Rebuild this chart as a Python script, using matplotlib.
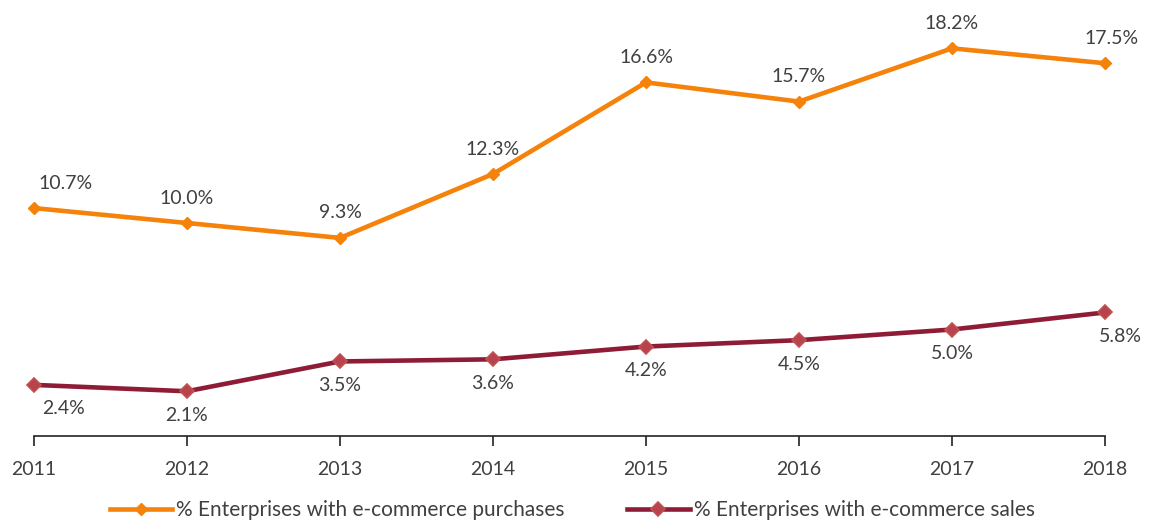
import numpy as np
import matplotlib.pyplot as plt

plt.rcParams['font.family'] = ['Lato', 'DejaVu Sans']

# data
years = ['2011', '2012', '2013', '2014', '2015', '2016', '2017', '2018']
purchases = [10.7, 10.0, 9.3, 12.3, 16.6, 15.7, 18.2, 17.5]
sales = [2.4, 2.1, 3.5, 3.6, 4.2, 4.5, 5.0, 5.8]
label_buy = '% Enterprises with e-commerce purchases'
label_sell = '% Enterprises with e-commerce sales'

orange = '#F5820A'
wine = '#8E1C36'
txt = '#404040'

fig = plt.figure(figsize=(11.49, 5.23), dpi=100)
ax = fig.add_axes([34/1149, 1-436/523, (1105-34)/1149, (436-10)/523])

x = np.arange(len(years))
ax.plot(x, purchases, color=orange, lw=3.3, marker='D', ms=6,
        mfc=orange, mec=orange, label=label_buy, zorder=3, clip_on=False)
ax.plot(x, sales, color=wine, lw=3.3, marker='D', ms=7,
        mfc='#B8434F', mec='#C0504D', mew=1.2, label=label_sell, zorder=3,
        clip_on=False)

# etiquetas de datos
dx_top = [32, 0, 0, 0, 0, 0, 0, 7]
dx_bot = [30, 0, 0, 0, 0, 0, 0, 15]
for i in range(len(years)):
    ax.annotate(f'{purchases[i]:.1f}%', (x[i], purchases[i]),
                xytext=(dx_top[i], 25), textcoords='offset pixels',
                ha='center', va='center', fontsize=14, color=txt)
    ax.annotate(f'{sales[i]:.1f}%', (x[i], sales[i]),
                xytext=(dx_bot[i], -24), textcoords='offset pixels',
                ha='center', va='center', fontsize=14, color=txt)

ax.set_xlim(0, len(years)-1)
ax.set_ylim(0, 20)
ax.set_xticks(x)
ax.set_xticklabels(years, fontsize=14, color=txt)
ax.set_yticks([])
for s in ['top', 'right', 'left']:
    ax.spines[s].set_visible(False)
ax.spines['bottom'].set_color('#222222')
ax.spines['bottom'].set_linewidth(1.2)
ax.tick_params(axis='x', length=7, width=1.2, color='#222222', pad=11)

fig.legend(loc='center', bbox_to_anchor=(0.498, 1-510/523), ncol=2,
           frameon=False, fontsize=15, handlelength=3.0, handletextpad=0.2,
           columnspacing=3.0, labelcolor=txt)

fig.savefig('out.png', dpi=100)
